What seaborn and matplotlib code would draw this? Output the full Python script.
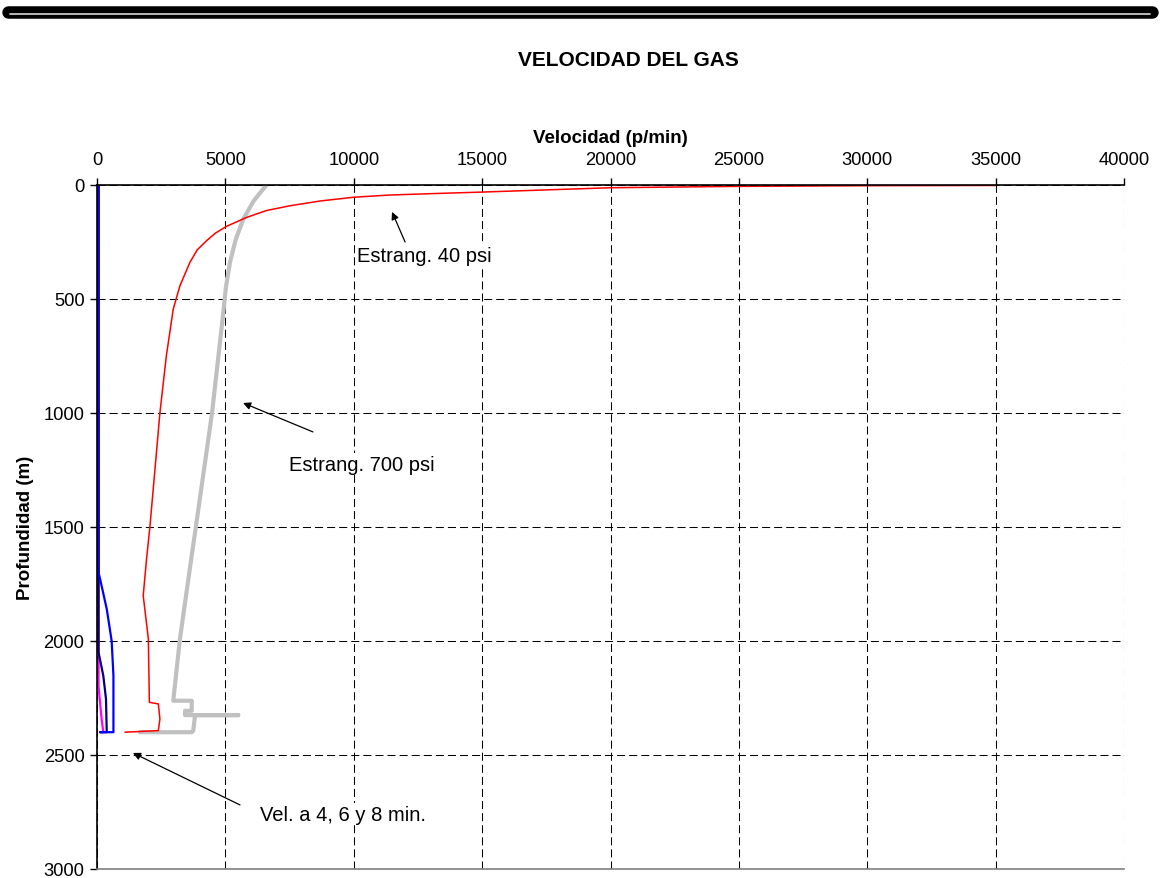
import matplotlib
matplotlib.use("Agg")
import matplotlib.pyplot as plt
import seaborn as sns
from matplotlib.lines import Line2D

sns.set_theme(style="white")
plt.rcParams['font.family'] = ['Liberation Sans', 'DejaVu Sans']
plt.rcParams['lines.scale_dashes'] = False
plt.rcParams['text.color'] = 'black'
plt.rcParams['axes.labelcolor'] = 'black'
plt.rcParams['xtick.color'] = 'black'
plt.rcParams['ytick.color'] = 'black'

# ---- data (velocity p/min, depth m) ----
red_vel = [35000, 30000, 25000, 20000, 15000, 13000, 11400, 9970, 8700, 7520, 6600, 5830, 5050,
           4600, 4270, 3900, 3620, 3230, 2970, 2700, 2450, 2060, 1930, 1800, 2000, 2040,
           2390, 2450, 2390, 1090]
red_depth = [2, 3, 6, 12, 31, 38, 44, 54, 70, 91, 112, 142, 181,
             212, 244, 285, 339, 442, 544, 750, 1000, 1500, 1640, 1801, 1991, 2269,
             2276, 2342, 2393, 2400]

gray_vel = [6600, 6100, 5700, 5400, 5180, 5020, 4920, 4480, 3850, 3670, 3230, 2970, 3690, 3690,
            3430, 3430, 5500, 3820, 3750, 3690, 1670]
gray_depth = [0, 70, 149, 240, 339, 450, 559, 1000, 1500, 1640, 1991, 2262, 2262, 2306,
              2306, 2325, 2325, 2325, 2393, 2400, 2400]

blue_vel = [60, 60, 120, 380, 570, 640, 640, 120]
blue_depth = [0, 1700, 1728, 1860, 1999, 2152, 2400, 2400]

navy_vel = [60, 60, 245, 350, 380, 120]
navy_depth = [0, 2050, 2152, 2254, 2400, 2400]

mag_vel = [60, 60, 180, 245, 120]
mag_depth = [0, 2200, 2342, 2400, 2400]

x_ticks = [0, 5000, 10000, 15000, 20000, 25000, 30000, 35000, 40000]
y_ticks = [0, 500, 1000, 1500, 2000, 2500, 3000]

W, H = 1160, 879
fig = plt.figure(figsize=(W / 100, H / 100), dpi=100)
ax = fig.add_axes([97 / W, 1 - 870 / H, (1124 - 97) / W, (870 - 186) / H])

sns.lineplot(x=mag_vel, y=mag_depth, sort=False, estimator=None, color='#FF00FF', lw=1.6, ax=ax)
sns.lineplot(x=navy_vel, y=navy_depth, sort=False, estimator=None, color='#000080', lw=1.6, ax=ax)
sns.lineplot(x=blue_vel, y=blue_depth, sort=False, estimator=None, color='#0000FF', lw=1.6, ax=ax)
sns.lineplot(x=gray_vel, y=gray_depth, sort=False, estimator=None, color='#C0C0C0', lw=3.0, ax=ax)
sns.lineplot(x=red_vel, y=red_depth, sort=False, estimator=None, color='#FF0000', lw=1.1, ax=ax)

ax.set_xlim(0, 40000)
ax.set_ylim(3000, 0)
ax.set_xticks(x_ticks)
ax.set_yticks(y_ticks)
ax.xaxis.tick_top()
ax.xaxis.set_label_position('top')
ax.tick_params(axis='both', which='major', direction='out', length=5, width=1, color='black',
               labelsize=13.2, pad=4)
ax.tick_params(axis='x', top=True, bottom=False, pad=7)
ax.tick_params(axis='y', left=True, right=False)

ax.grid(True, color='black', linestyle=(0, (5.8, 2.9)), linewidth=0.75)
ax.spines['right'].set_visible(False)
ax.spines['bottom'].set_visible(True)
ax.spines['bottom'].set_color('#808080')
ax.spines['bottom'].set_linewidth(1.2)
for s in ['left', 'top']:
    ax.spines[s].set_visible(True)
    ax.spines[s].set_color('black')
    ax.spines[s].set_linewidth(1.2)

ax.set_xlabel('Velocidad (p/min)', fontsize=13.5, fontweight='bold', labelpad=7)
ax.set_ylabel('Profundidad (m)', fontsize=13.5, fontweight='bold', labelpad=7)

fig.text(628 / W, 1 - 60 / H, 'VELOCIDAD DEL GAS', ha='center', va='center',
         fontsize=15, fontweight='bold')

box = dict(facecolor='white', edgecolor='none', pad=1)
arrow = dict(arrowstyle='-|>', color='black', lw=0.9, mutation_scale=11, shrinkA=0, shrinkB=0)
ax.annotate('', xy=(11490, 118), xytext=(12000, 250), arrowprops=arrow)
ax.text(12740, 311, 'Estrang. 40 psi', ha='center', va='center', fontsize=14.5, bbox=box)
ax.annotate('', xy=(5690, 956), xytext=(8410, 1083), arrowprops=arrow)
ax.text(10320, 1224, 'Estrang. 700 psi', ha='center', va='center', fontsize=14.5, bbox=box)
ax.annotate('', xy=(1400, 2491), xytext=(5570, 2719), arrowprops=arrow)
ax.text(9580, 2759, 'Vel. a 4, 6 y 8 min.', ha='center', va='center', fontsize=14.5, bbox=box)

# top decorative double rule
fig.add_artist(Line2D([8 / W, 1152 / W], [1 - 12.5 / H, 1 - 12.5 / H], color='black',
                      lw=9, solid_capstyle='round', transform=fig.transFigure))
fig.add_artist(Line2D([10 / W, 1150 / W], [1 - 15 / H, 1 - 15 / H], color='#C8C8C8',
                      lw=1.3, transform=fig.transFigure))

fig.savefig('out.png', dpi=100, facecolor='white')
